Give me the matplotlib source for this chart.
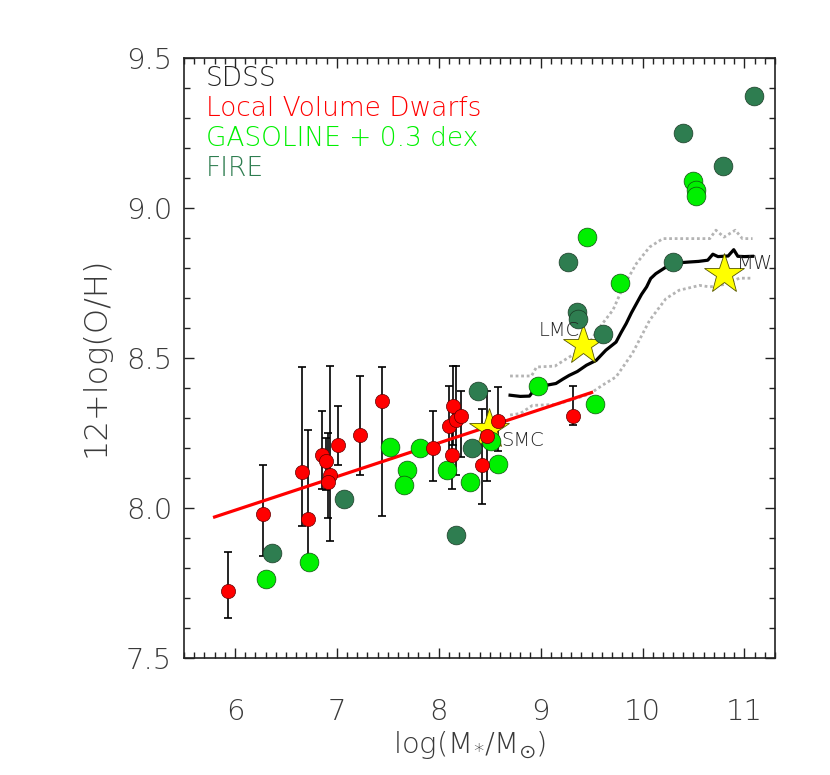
import matplotlib
matplotlib.use('Agg')
import matplotlib.pyplot as plt
from matplotlib.ticker import MultipleLocator, FormatStrFormatter

plt.rcParams['font.family'] = ['DejaVu Sans']
plt.rcParams['font.weight'] = 'light'
plt.rcParams['mathtext.default'] = 'regular'

# ---------------- data ----------------
# Local Volume Dwarfs: log M*, 12+log(O/H), lower and upper ends of error bar
lvd_mass = [5.93, 6.275, 6.654, 6.716, 6.856, 6.892, 6.931, 6.915, 7.013, 7.225, 7.444,
            7.944, 8.101, 8.14, 8.167, 8.222, 8.13, 8.42, 8.58, 8.47, 9.32]
lvd_oh = [7.725, 7.979, 8.119, 7.963, 8.176, 8.156, 8.111, 8.087, 8.209, 8.242, 8.357,
          8.20, 8.273, 8.34, 8.292, 8.307, 8.176, 8.145, 8.289, 8.24, 8.307]
lvd_lo = [7.633, 7.839, 7.939, 7.82, 8.062, 8.06, 7.89, 7.967, 8.145, 8.111, 7.972,
          8.09, 8.14, 8.21, 8.11, 8.17, 8.063, 8.012, 8.19, 8.09, 8.276]
lvd_hi = [7.855, 8.142, 8.47, 8.259, 8.323, 8.232, 8.472, 8.249, 8.339, 8.439, 8.47,
          8.323, 8.406, 8.472, 8.472, 8.39, 8.29, 8.33, 8.405, 8.39, 8.406]

# linear fit to the dwarfs
fit_mass = [5.80, 9.50]
fit_oh = [7.97, 8.385]

# GASOLINE (+0.3 dex)
gas_mass = [6.304, 6.722, 7.52, 7.69, 7.66, 7.82, 8.08, 8.31, 8.517, 8.58, 8.97, 9.53,
            9.458, 9.775, 10.50, 10.52, 10.52]
gas_oh = [7.763, 7.82, 8.203, 8.126, 8.078, 8.20, 8.126, 8.087, 8.222, 8.148, 8.407, 8.348,
          8.903, 8.75, 9.09, 9.061, 9.039]

# FIRE
fire_mass = [6.36, 7.069, 8.39, 8.33, 8.167, 9.27, 9.357, 9.366, 9.61, 10.30, 11.09, 10.395, 10.79]
fire_oh = [7.85, 8.031, 8.39, 8.20, 7.911, 8.82, 8.653, 8.629, 8.581, 8.82, 9.372, 9.251, 9.141]

# SDSS median relation and scatter
sdss_mass = [8.70, 8.80, 8.89, 8.94, 8.99, 9.07, 9.15, 9.22, 9.28, 9.36, 9.45, 9.545, 9.64,
             9.74, 9.79, 9.84, 9.89, 9.94, 9.99, 10.04, 10.08, 10.13, 10.23, 10.30, 10.38,
             10.46, 10.55, 10.64, 10.69, 10.74, 10.79, 10.84, 10.895, 10.935, 11.0, 11.08]
sdss_oh = [8.376, 8.372, 8.373, 8.395, 8.41, 8.41, 8.415, 8.43, 8.442, 8.455, 8.476, 8.492,
           8.526, 8.553, 8.585, 8.615, 8.65, 8.681, 8.712, 8.737, 8.765, 8.781, 8.803, 8.815,
           8.818, 8.82, 8.822, 8.826, 8.846, 8.838, 8.839, 8.84, 8.861, 8.839, 8.838, 8.839]
sdss_up_mass = [8.70, 8.91, 8.96, 9.14, 9.28, 9.45, 9.58, 9.71, 9.81, 9.94, 10.07, 10.20,
                10.46, 10.66, 10.72, 10.80, 10.91, 10.98, 11.08]
sdss_up_oh = [8.44, 8.44, 8.47, 8.473, 8.503, 8.537, 8.603, 8.66, 8.737, 8.815, 8.87, 8.898,
              8.898, 8.898, 8.926, 8.903, 8.926, 8.898, 8.898]
sdss_lo_mass = [8.70, 8.80, 8.92, 9.15, 9.30, 9.48, 9.61, 9.74, 9.90, 10.07, 10.23, 10.36,
                10.56, 10.66, 10.80, 10.95, 11.08]
sdss_lo_oh = [8.31, 8.315, 8.342, 8.345, 8.36, 8.38, 8.41, 8.437, 8.515, 8.626, 8.698, 8.726,
              8.742, 8.737, 8.745, 8.766, 8.766]

# galaxies
star_names = ['SMC', 'LMC', 'MW']
star_mass = [8.49, 9.415, 10.80]
star_oh = [8.265, 8.542, 8.779]

legend_labels = ['SDSS', 'Local Volume Dwarfs', 'GASOLINE + 0.3 dex', 'FIRE']

# ---------------- styling ----------------
RED = '#ff0000'
LIME = '#00f000'
FIRE = '#2e7d50'
TXT = '#3a3a3a'

fig = plt.figure(figsize=(8.3, 7.75), dpi=100)
ax = fig.add_axes([184 / 830, 1 - 658 / 775, (775 - 184) / 830, (658 - 58) / 775])

ax.plot(sdss_up_mass, sdss_up_oh, color='#b4b4b4', lw=2.0, ls=(0, (1, 1)), zorder=1)
ax.plot(sdss_lo_mass, sdss_lo_oh, color='#b4b4b4', lw=2.0, ls=(0, (1, 1)), zorder=1)
ax.plot(sdss_mass, sdss_oh, color='black', lw=2.3, zorder=2)

yerr = [[o - l for o, l in zip(lvd_oh, lvd_lo)], [h - o for o, h in zip(lvd_oh, lvd_hi)]]
ax.errorbar(lvd_mass, lvd_oh, yerr=yerr, fmt='none', ecolor='black', elinewidth=1.2,
            capsize=3, capthick=1.2, zorder=3)
ax.plot(fit_mass, fit_oh, color=RED, lw=2.3, zorder=4)

ax.plot(star_mass, star_oh, ls='none', marker='*', ms=30, mfc='#ffff00', mec='#555500',
        mew=0.6, zorder=5)

ax.scatter(gas_mass, gas_oh, s=13.5 ** 2, c=LIME, edgecolors='#105010', linewidths=0.5, zorder=6)
ax.scatter(fire_mass, fire_oh, s=13.5 ** 2, c=FIRE, edgecolors='#1a3a25', linewidths=0.5, zorder=6)
ax.scatter(lvd_mass, lvd_oh, s=10.2 ** 2, c=RED, edgecolors='#600000', linewidths=0.5, zorder=7)

# galaxy labels
offsets = {'SMC': (9, -9, 'left'), 'LMC': (-2, 10.5, 'right'), 'MW': (9.5, 8, 'left')}
for n, xm, yo in zip(star_names, star_mass, star_oh):
    dx, dy, ha = offsets[n]
    ax.annotate(n, (xm, yo), xytext=(dx, dy), textcoords='offset points', ha=ha, va='center',
                fontsize=14, color='#222222', zorder=8)

# legend text
leg_colors = ['#222222', RED, LIME, FIRE]
for i, (lab, c) in enumerate(zip(legend_labels, leg_colors)):
    fig.text(206 / 830, 1 - (79 + 30 * i) / 775, lab, color=c, fontsize=19, ha='left', va='center')

ax.set_xlim(5.5, 11.3)
ax.set_ylim(7.5, 9.5)
ax.xaxis.set_major_locator(MultipleLocator(1))
ax.xaxis.set_minor_locator(MultipleLocator(0.1))
ax.yaxis.set_major_locator(MultipleLocator(0.5))
ax.yaxis.set_minor_locator(MultipleLocator(0.1))
ax.yaxis.set_major_formatter(FormatStrFormatter('%.1f'))
ax.tick_params(which='both', direction='in', top=True, right=True, colors='#222222',
               labelcolor=TXT, labelsize=21)
ax.tick_params(which='major', length=7.5, width=1.0)
ax.tick_params(which='minor', length=4, width=1.0)
ax.tick_params(axis='x', which='major', pad=29)
ax.tick_params(axis='y', which='major', pad=8.5)
for sp in ax.spines.values():
    sp.set_linewidth(1.2)
    sp.set_color('#222222')

fig.text(470 / 830, 1 - 745 / 775, r'log(M$_{*}$/M$_{\odot}$)', fontsize=21, color=TXT,
         ha='center', va='center')
fig.text(95 / 830, 1 - 357 / 775, '12+log(O/H)', fontsize=23, color=TXT, rotation=90,
         ha='center', va='center')

fig.savefig('out.png', dpi=100)
